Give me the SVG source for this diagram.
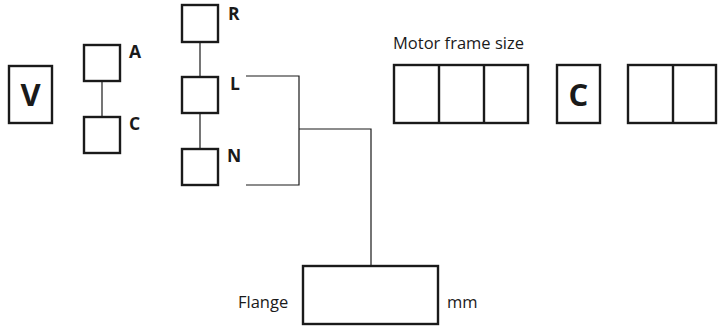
<svg xmlns="http://www.w3.org/2000/svg" width="722" height="327" viewBox="0 0 722 327">
<style>
.box{fill:#fff;stroke:#1a1a1a;stroke-width:2.4}
.ln{fill:none;stroke:#1a1a1a;stroke-width:1.2}
.lbl{font-family:"Open Sans","Liberation Sans",sans-serif;font-weight:bold;font-size:17.5px;fill:#1a1a1a}
.big{font-family:"Open Sans","Liberation Sans",sans-serif;font-weight:bold;font-size:31px;fill:#1a1a1a;text-anchor:middle}
.txt{font-family:"Open Sans","Liberation Sans",sans-serif;font-size:16.5px;fill:#1a1a1a}
</style>
<g id="connectors">
<line class="ln" x1="102" y1="81" x2="102" y2="117"/>
<line class="ln" x1="200" y1="42" x2="200" y2="77"/>
<line class="ln" x1="200" y1="113" x2="200" y2="149"/>
<polyline class="ln" points="246,76 299,76 299,185 246,185"/>
<polyline class="ln" points="299,129 371,129 371,266"/>
</g>
<g id="V"><rect class="box" x="9" y="66" width="43" height="57"/><text class="big" x="30.5" y="106">V</text></g>
<g id="A"><rect class="box" x="84" y="45" width="36" height="36"/><text class="lbl" x="129" y="58">A</text></g>
<g id="C1"><rect class="box" x="84" y="117" width="36" height="36"/><text class="lbl" x="129" y="130">C</text></g>
<g id="R"><rect class="box" x="182" y="5" width="36" height="37"/><text class="lbl" x="228" y="20">R</text></g>
<g id="L"><rect class="box" x="182" y="77" width="36" height="36"/><text class="lbl" x="230" y="90">L</text></g>
<g id="N"><rect class="box" x="182" y="149" width="36" height="36"/><text class="lbl" x="227" y="162">N</text></g>
<g id="frame">
<text class="txt" x="393" y="49">Motor frame size</text>
<rect class="box" x="394" y="65" width="134" height="58"/>
<line class="box" x1="439" y1="65" x2="439" y2="123"/>
<line class="box" x1="484" y1="65" x2="484" y2="123"/>
</g>
<g id="C2"><rect class="box" x="557" y="65" width="43" height="58"/><text class="big" x="578.5" y="106">C</text></g>
<g id="right"><rect class="box" x="628" y="65" width="88" height="58"/><line class="box" x1="673" y1="65" x2="673" y2="123"/></g>
<g id="flange">
<rect class="box" x="303" y="266" width="135" height="58"/>
<text class="txt" x="238" y="308">Flange</text>
<text class="txt" x="447" y="308">mm</text>
</g>
</svg>
